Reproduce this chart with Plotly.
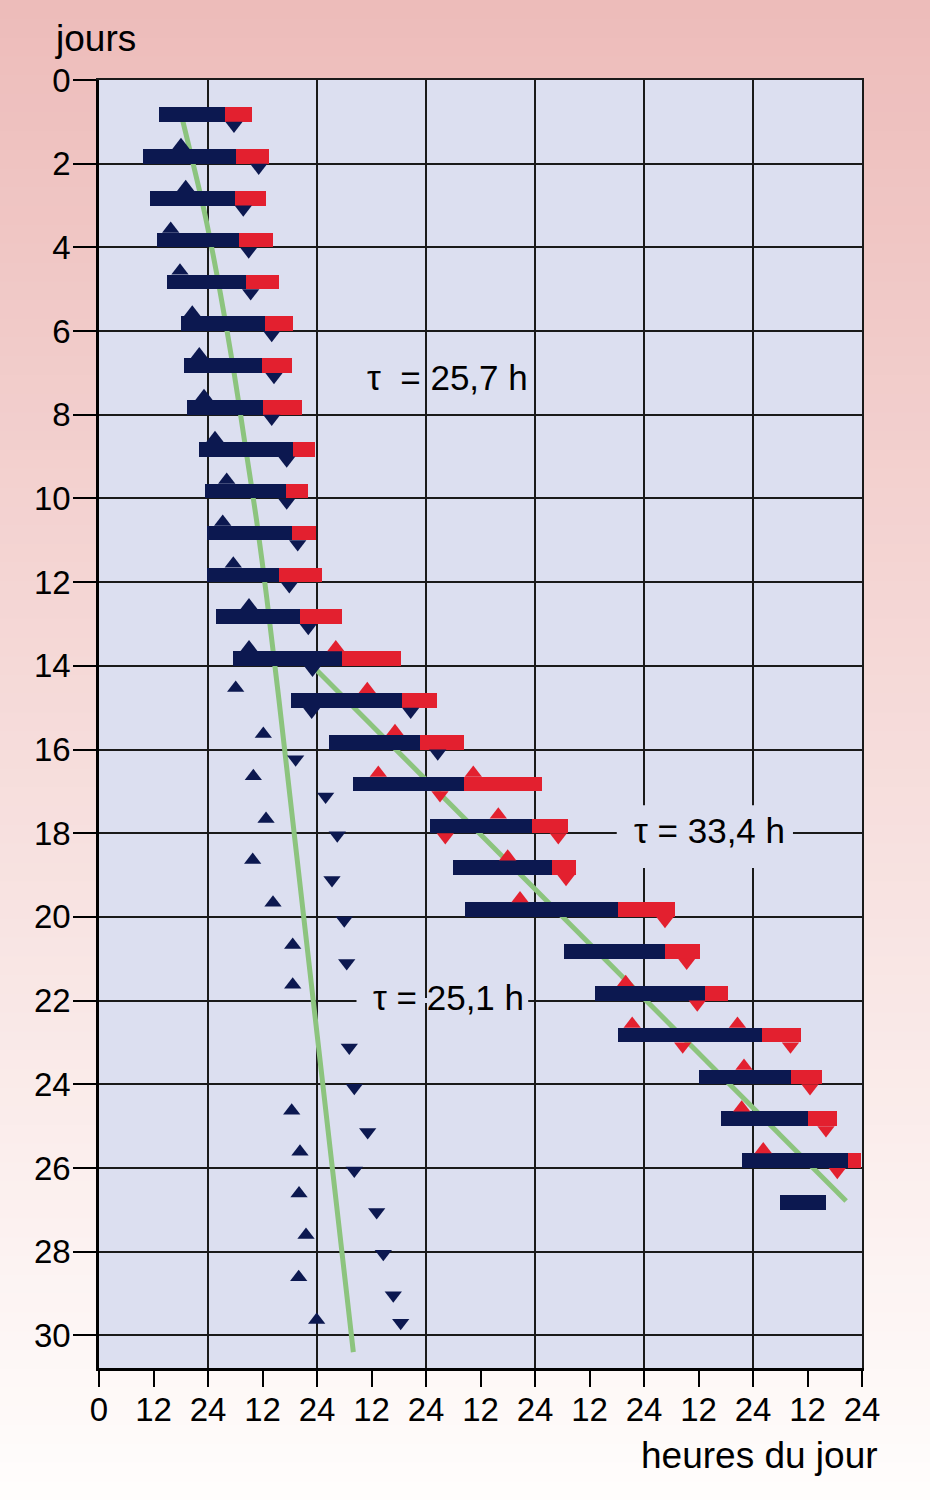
import plotly.graph_objects as go

# ---------------- data ----------------
days = list(range(1, 28))
# navy bars (start -> end, hours of the 7-day strip), red bars follow the navy ones
wake_start = [13.14, 9.62, 11.23, 12.70, 14.91, 17.99, 18.72, 19.44, 21.95, 23.34,
              23.85, 23.85, 25.76, 29.57, 42.21, 50.71, 55.86, 72.95, 77.88, 80.59,
              102.38, 109.21, 114.34, 132.17, 136.95, 141.64, 150.01]
wake_end = [27.81, 30.16, 29.88, 30.83, 32.30, 36.55, 35.82, 36.18, 42.65, 41.11,
            42.43, 39.57, 44.26, 53.57, 66.78, 70.74, 80.43, 95.27, 99.81, 114.34,
            124.69, 133.43, 145.91, 152.30, 156.04, 164.85, 160.00]
sleep_end = [33.75, 37.50, 36.77, 38.38, 39.70, 42.78, 42.49, 44.70, 47.63, 45.95,
             47.78, 49.17, 53.50, 66.49, 74.35, 80.37, 97.61, 103.20, 104.96, 126.82,
             132.33, 138.43, 154.50, 159.12, 162.43, 167.78, None]

# triangles attached to the bars: (day, hour)
navy_up_day = [2, 3, 4, 5, 6, 7, 8, 9, 10, 11, 12, 13, 14]
navy_up_hour = [18.05, 19.09, 15.79, 17.83, 20.54, 22.08, 23.12, 25.54, 28.12, 27.24,
                29.57, 33.03, 33.03]
navy_down_day = [1, 2, 3, 4, 5, 6, 7, 8, 9, 10, 11, 12, 13, 14, 15, 15, 16]
navy_down_hour = [29.72, 35.16, 31.77, 32.96, 33.40, 38.03, 38.53, 38.03, 41.33, 41.33,
                  43.75, 41.90, 46.08, 47.01, 46.83, 68.63, 74.58]
red_up_day = [14, 15, 16, 17, 17, 18, 19, 20, 22, 23, 23, 24, 25, 26]
red_up_hour = [52.14, 59.07, 65.17, 61.50, 82.41, 87.92, 89.99, 92.70, 115.97, 117.40,
               140.58, 142.02, 141.51, 146.26]
red_down_day = [17, 18, 18, 19, 20, 21, 22, 23, 23, 24, 25, 26]
red_down_hour = [75.08, 76.25, 101.13, 102.83, 124.62, 129.40, 131.73, 128.52, 152.25,
                 156.55, 160.07, 162.56]

# free-running triangles (day position, hour)
free_up_day = [14.53, 15.63, 16.64, 17.66, 18.64, 19.66, 20.67, 21.62, 24.63, 25.61,
               26.61, 27.60, 28.61, 29.63]
free_up_hour = [30.10, 36.18, 33.98, 36.78, 33.84, 38.31, 42.65, 42.65, 42.43, 44.25,
                44.04, 45.58, 43.97, 47.93]
free_down_day = [16.23, 17.12, 18.05, 19.12, 20.08, 21.10, 23.12, 24.08, 25.14, 26.06,
                 27.05, 28.05, 29.04, 29.70]
free_down_hour = [43.30, 49.90, 52.47, 51.30, 54.00, 54.54, 55.11, 56.21, 59.16, 56.21,
                  61.14, 62.60, 64.80, 66.43]

# fitted period lines
fit1_hour = [18.43, 23.34, 26.64, 29.57, 32.15, 34.72, 36.92, 39.63, 56.00]
fit1_day = [0.97, 3.22, 5.05, 6.88, 8.70, 10.54, 12.36, 14.82, 30.40]
fit2_hour = [47.90, 164.50]
fit2_day = [14.10, 26.79]

x_tickvals = list(range(0, 169, 12))
x_ticktext = ["0"] + ["12" if (v // 12) % 2 == 1 else "24" for v in x_tickvals[1:]]
y_tickvals = list(range(0, 31, 2))

labels = [("τ  = 25,7 h", 76.73, 7.12), ("τ = 33,4 h", 134.35, 17.94), ("τ = 25,1 h", 76.92, 21.93)]

# ---------------- style ----------------
NAVY = "#0c1850"
RED = "#e3202f"
GREEN = "#8cc47e"
LAV = "#dcdff0"
GRID = "#1a1a1a"
FONT = "Liberation Sans, Arial, sans-serif"
BAR_H = 0.35
TRI = 15
W, H = 930, 1500
ML, MR, MT, MB = 99, 68, 80, 132
Y_MAX = 30.78
px_per_day = (H - MT - MB) / Y_MAX
tri_off = (TRI / 4) / px_per_day

fig = go.Figure()

# fitted lines (main subplot, beneath bars)
fig.add_trace(go.Scatter(x=fit1_hour, y=fit1_day, mode="lines",
                         line=dict(color=GREEN, width=5, shape="spline", smoothing=0.8),
                         hoverinfo="skip", showlegend=False, xaxis="x", yaxis="y"))
fig.add_trace(go.Scatter(x=fit2_hour, y=fit2_day, mode="lines",
                         line=dict(color=GREEN, width=5),
                         hoverinfo="skip", showlegend=False, xaxis="x", yaxis="y"))

# bars (overlay subplot, above lines)
bar_y = [d - BAR_H / 2 for d in days]
fig.add_trace(go.Bar(orientation="h", y=bar_y, base=wake_start,
                     x=[e - s for s, e in zip(wake_start, wake_end)], width=BAR_H,
                     marker=dict(color=NAVY, line=dict(width=0)), showlegend=False,
                     xaxis="x2", yaxis="y2"))
red_idx = [i for i, v in enumerate(sleep_end) if v is not None]
fig.add_trace(go.Bar(orientation="h", y=[bar_y[i] for i in red_idx],
                     base=[wake_end[i] for i in red_idx],
                     x=[sleep_end[i] - wake_end[i] for i in red_idx], width=BAR_H,
                     marker=dict(color=RED, line=dict(width=0)), showlegend=False,
                     xaxis="x2", yaxis="y2"))


def tri(hours, ys, symbol, color):
    return go.Scatter(x=hours, y=ys, mode="markers",
                      marker=dict(symbol=symbol, size=TRI, color=color, line=dict(width=0)),
                      hoverinfo="skip", showlegend=False, xaxis="x2", yaxis="y2")


fig.add_trace(tri(navy_up_hour, [d - BAR_H - tri_off for d in navy_up_day], "triangle-up", NAVY))
fig.add_trace(tri(navy_down_hour, [d + tri_off for d in navy_down_day], "triangle-down", NAVY))
fig.add_trace(tri(red_up_hour, [d - BAR_H - tri_off for d in red_up_day], "triangle-up", RED))
fig.add_trace(tri(red_down_hour, [d + tri_off for d in red_down_day], "triangle-down", RED))
fig.add_trace(tri(free_up_hour, free_up_day, "triangle-up", NAVY))
fig.add_trace(tri(free_down_hour, free_down_day, "triangle-down", NAVY))

# background gradient (pink at the top -> white at the bottom)
shapes = []
N = 80
top_c = (237, 188, 186)
bot_c = (255, 253, 252)
paper_top = 1 + MT / (H - MT - MB)
paper_bot = -MB / (H - MT - MB)
paper_left = -ML / (W - ML - MR)
paper_right = 1 + MR / (W - ML - MR)
for k in range(N):
    t = (k + 0.5) / N
    c = tuple(round(a + (b - a) * t) for a, b in zip(top_c, bot_c))
    y1 = paper_top - (paper_top - paper_bot) * k / N
    y0 = paper_top - (paper_top - paper_bot) * (k + 1) / N - 0.001
    shapes.append(dict(type="rect", xref="paper", yref="paper", x0=paper_left, x1=paper_right,
                       y0=y0, y1=y1, fillcolor="rgb(%d,%d,%d)" % c, line=dict(width=0),
                       layer="below"))
# plot-area background on top of the gradient
shapes.append(dict(type="rect", xref="paper", yref="paper", x0=0, x1=1, y0=0, y1=1,
                   fillcolor=LAV, line=dict(width=0), layer="below"))

# label backgrounds interrupting the grid
shapes.append(dict(type="rect", xref="x", yref="y", x0=114.0, x1=152.8, y0=17.33, y1=18.83,
                   fillcolor=LAV, line=dict(width=0), layer="between"))
shapes.append(dict(type="rect", xref="x", yref="y", x0=56.7, x1=94.5, y0=21.94, y1=22.06,
                   fillcolor=LAV, line=dict(width=0), layer="between"))

annotations = [
    dict(text="jours", xref="paper", yref="paper", x=(95 - ML) / (W - ML - MR),
         y=1 + (MT - 38) / (H - MT - MB), xanchor="center", yanchor="middle",
         showarrow=False, font=dict(family=FONT, size=37, color="black")),
    dict(text="heures du jour", xref="paper", yref="paper", x=(880 - ML) / (W - ML - MR),
         y=-(1455 - (H - MB)) / (H - MT - MB), xanchor="right", yanchor="middle",
         showarrow=False, font=dict(family=FONT, size=37, color="black")),
]
for txt, hx, dy in labels:
    annotations.append(dict(text=txt, x=hx, y=dy, xref="x", yref="y", showarrow=False,
                            xanchor="center", yanchor="middle",
                            font=dict(family=FONT, size=35, color="black")))

fig.update_layout(
    width=W, height=H, margin=dict(l=ML, r=MR, t=MT, b=MB, pad=0),
    paper_bgcolor="white", plot_bgcolor=LAV, barmode="overlay", bargap=0,
    font=dict(family=FONT, color="black"),
    showlegend=False, shapes=shapes, annotations=annotations,
    xaxis=dict(range=[0, 168], tickmode="array", tickvals=x_tickvals, ticktext=x_ticktext,
               ticks="outside", ticklen=16, tickwidth=2, tickcolor="black",
               showline=True, linewidth=3, linecolor="black", showgrid=False,
               zeroline=False, tickfont=dict(size=33), ticklabelstandoff=-6,
               fixedrange=True),
    yaxis=dict(range=[Y_MAX, 0], tickmode="array", tickvals=y_tickvals,
               ticks="outside", ticklen=23, tickwidth=2, tickcolor="black",
               showline=True, linewidth=2.5, linecolor="black",
               showgrid=True, gridcolor=GRID, gridwidth=1.5,
               zeroline=False, tickfont=dict(size=33), ticklabelstandoff=-4,
               fixedrange=True),
    xaxis2=dict(range=[0, 168], overlaying="x", side="top", tickmode="array",
                tickvals=list(range(0, 169, 24)), showgrid=True, gridcolor=GRID, gridwidth=1.5,
                ticks="", showticklabels=False, showline=True, linewidth=1.5,
                linecolor=GRID, zeroline=False, fixedrange=True),
    yaxis2=dict(range=[Y_MAX, 0], overlaying="y", side="right", showgrid=False,
                ticks="", showticklabels=False, showline=True, linewidth=1.5,
                linecolor=GRID, zeroline=False, fixedrange=True),
)

fig.write_html("out.html")
